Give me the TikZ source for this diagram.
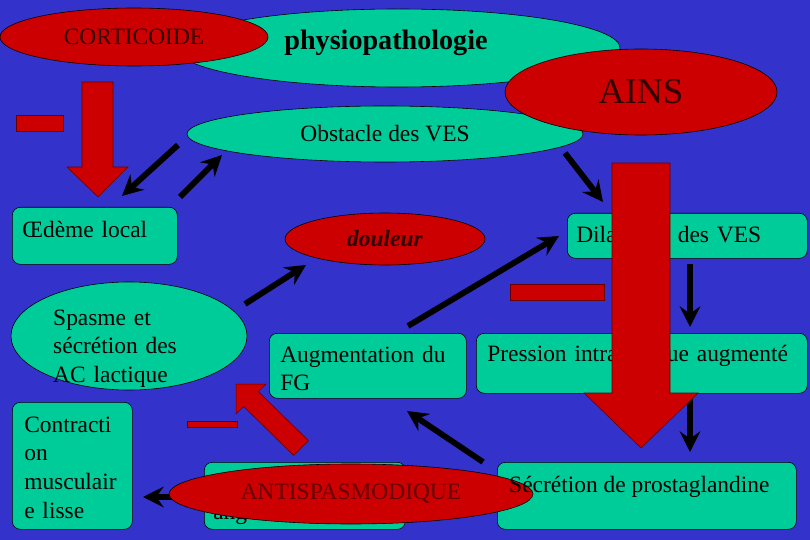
\documentclass[tikz,border=0pt]{standalone}
\usepackage{fontspec}
\setmainfont{Liberation Serif}
\usetikzlibrary{shapes.geometric, arrows.meta}

\newcommand{\txtfont}{\fontsize{20pt}{24.5pt}\selectfont}
\newcommand{\titlefont}{\fontsize{24pt}{28pt}\selectfont\bfseries}
\newcommand{\ainsfont}{\fontsize{31pt}{36pt}\selectfont}

\begin{document}
\begin{tikzpicture}[x=0.03cm, y=-0.03cm,
    bubble/.style={ellipse, draw=black, line width=0.5pt, inner sep=0pt, font=\txtfont},
    greenBubble/.style={bubble, fill=greenColour},
    redBubble/.style={bubble, fill=redColour, text=darkText},
    box/.style={draw=black, line width=0.5pt, fill=greenColour, rounded corners=0.24cm,
        anchor=north west, inner ysep=0pt, align=left, font=\txtfont},
    boxText/.style={font=\txtfont, inner sep=0pt},
    redShape/.style={fill=redColour, draw=darkRed, line width=0.5pt},
    blackArrow/.style={line width=5pt, -{Stealth[length=0.62cm, width=0.62cm, inset=0.22cm]}}
]
    \definecolor{bgColour}{HTML}{3333CC}
    \definecolor{greenColour}{HTML}{00CC99}
    \definecolor{redColour}{HTML}{CC0000}
    \definecolor{darkRed}{HTML}{660000}
    \definecolor{darkText}{HTML}{330000}

    % Background
    \useasboundingbox (0,0) rectangle (810,540);
    \fill[bgColour] (0,0) rectangle (810,540);

    % Top bubbles
    \node[greenBubble, minimum width=13.32cm, minimum height=2.34cm,
        label={[font=\titlefont, xshift=-0.36cm, yshift=0.15cm]center:physiopathologie}] (physio) at (398,48) {};
    \node[redBubble, minimum width=8.04cm, minimum height=1.74cm] (corticoide) at (134,37) {CORTICOIDE};
    \node[greenBubble, minimum width=11.88cm, minimum height=1.68cm] (obstacle) at (385,134) {Obstacle des VES};
    \node[redBubble, font=\ainsfont, minimum width=8.16cm, minimum height=2.58cm] (ains) at (641,92) {AINS};

    % Corticoide block arrow and minus
    \filldraw[redShape] (16,115) rectangle (63,131);
    \filldraw[redShape] (82,82) -- (113,82) -- (113,167) -- (128,167) -- (98,197) -- (67,167) -- (82,167) -- cycle;

    % Arrow end points
    \coordinate (obsToOedS) at (178,145);
    \coordinate (obsToOedE) at (122,196);
    \coordinate (oedToObsS) at (180,197);
    \coordinate (oedToObsE) at (222,155);
    \coordinate (obsToDilS) at (565,153);
    \coordinate (obsToDilE) at (603,202);
    \coordinate (spaToDouS) at (245,304);
    \coordinate (spaToDouE) at (306,265);
    \coordinate (augToDilS) at (408,326);
    \coordinate (augToDilE) at (559,236);
    \coordinate (dilToPreS) at (690,264);
    \coordinate (dilToPreE) at (690,327);
    \coordinate (preToSecS) at (690,398);
    \coordinate (preToSecE) at (690,452);
    \coordinate (secToAugS) at (483,462);
    \coordinate (secToAugE) at (407,411);
    \coordinate (antToConS) at (180,497);
    \coordinate (antToConE) at (143,497);

    \draw[blackArrow] (obsToOedS) -- (obsToOedE);
    \draw[blackArrow] (oedToObsS) -- (oedToObsE);
    \draw[blackArrow] (obsToDilS) -- (obsToDilE);

    % Middle row
    \node[box, text width=4.35cm, inner xsep=0.3cm, text height=0.9cm, text depth=0.81cm] (oedeme) at (12,207) {Œdème local};
    \node[redBubble, font=\txtfont\bfseries\itshape, minimum width=6cm, minimum height=1.56cm] (douleur) at (385,239) {douleur};
    \node[box, text width=6.66cm, inner xsep=0.27cm, text height=0.87cm, text depth=0.48cm] (dilatation) at (567,213) {Dilatation des VES};

    \node[greenBubble, minimum width=7.08cm, minimum height=3.24cm] (spasme) at (129,336) {};
    \node[boxText, anchor=base west, text width=3.9cm, align=left] (spasmeText) at (53,325) {Spasme et\\ sécrétion des\\ AC lactique};
    \node[box, text width=5.25cm, inner xsep=0.33cm, text height=0.87cm, text depth=1.08cm] (augmentation) at (269,333) {Augmentation~du\\ FG};
    \node[box, text width=9.27cm, inner xsep=0.33cm, text height=0.84cm, text depth=0.96cm] (pression) at (476,333) {Pression~intravésique~augmenté};
    \node[box, text width=2.88cm, inner xsep=0.36cm, text height=0.9cm, text depth=2.91cm] (contraction) at (12,402) {Contracti\\ on\\ musculair\\ e lisse};

    \draw[blackArrow] (spaToDouS) -- (spaToDouE);
    \draw[blackArrow] (augToDilS) -- (augToDilE);
    \draw[blackArrow] (dilToPreS) -- (dilToPreE);
    \draw[blackArrow] (preToSecS) -- (preToSecE);
    \draw[blackArrow] (secToAugS) -- (secToAugE);
    \draw[blackArrow] (antToConS) -- (antToConE);

    % Minus bars
    \filldraw[redShape] (510,284) rectangle (604,300);
    \filldraw[redShape] (187,421) rectangle (237,427);

    % Bottom row
    \node[box, text width=5.49cm, inner xsep=0.27cm, text height=1.71cm, text depth=0.3cm] (angi) at (204,462) {angi};
    \node[box, minimum width=8.97cm, minimum height=2.01cm, inner sep=0pt] (secretion) at (497,462) {};
    \node[redBubble, text=darkRed, minimum width=10.92cm, minimum height=1.8cm] (antispas) at (351,494) {ANTISPASMODIQUE};
    \node[boxText, anchor=base west] (secretionText) at (509,492) {Sécrétion de prostaglandine};

    % Antispasmodique block arrow
    \filldraw[redShape] (308.4,440.6) -- (258.4,391.6) -- (265.8,384.2) -- (236.2,384.2)
        -- (236.2,413.8) -- (243.6,406.4) -- (293.6,455.4) -- cycle;

    % AINS block arrow
    \filldraw[redShape] (612,163) -- (670,163) -- (670,393) -- (698,393) -- (641,448) -- (584,393) -- (612,393) -- cycle;

\end{tikzpicture}
\end{document}
